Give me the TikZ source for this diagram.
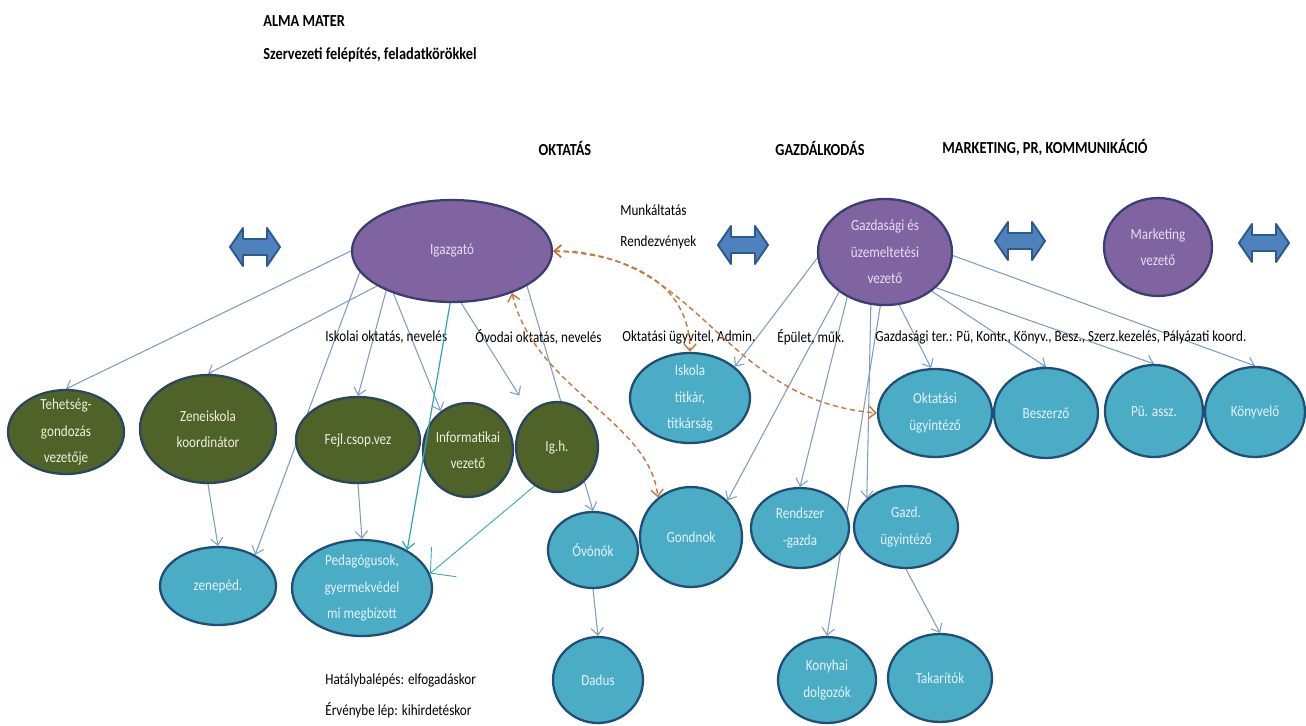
\documentclass[tikz,border=0pt]{standalone}
\usepackage{fontspec}
\setmainfont{Carlito}[FakeStretch=0.85]
\usetikzlibrary{shapes.geometric,arrows.meta,backgrounds}

\definecolor{purplefill}{HTML}{8064A2}
\definecolor{purpleline}{HTML}{3A3F72}
\definecolor{purpletext}{HTML}{E6DDF0}
\definecolor{greenfill}{HTML}{4F6228}
\definecolor{greenline}{HTML}{2A4560}
\definecolor{greentext}{HTML}{EBF1DE}
\definecolor{bluefill}{HTML}{4BACC6}
\definecolor{blueline}{HTML}{1F4E79}
\definecolor{bluetext}{HTML}{E4F3F8}
\definecolor{arrowfill}{HTML}{4F81BD}
\definecolor{arrowline}{HTML}{2C5A8F}
\definecolor{edgecol}{HTML}{7F9CC2}
\definecolor{linkcol}{HTML}{C4783C}
\definecolor{tealcol}{HTML}{2FA8BA}

\newcommand{\txtsize}{\fontsize{8.8}{15}\selectfont}
\newcommand{\headsize}{\fontsize{9.6}{12}\selectfont\bfseries}

\begin{document}
\begin{tikzpicture}[x=0.02cm, y=-0.02cm,
		ell/.style 2 args={minimum width=#1cm, minimum height=#2cm},
		node_text/.style={align=center, font=\txtsize, inner sep=0pt},
		purple_node/.style={ellipse, draw=purpleline, fill=purplefill, line width=1.3pt, inner sep=0pt,
			txt/.style={label={[node_text,text=purpletext]center:{##1}}}},
		green_node/.style={ellipse, draw=greenline, fill=greenfill, line width=1.3pt, inner sep=0pt,
			txt/.style={label={[node_text,text=greentext]center:{##1}}}},
		blue_node/.style={ellipse, draw=blueline, fill=bluefill, line width=1.3pt, inner sep=0pt,
			txt/.style={label={[node_text,text=bluetext]center:{##1}}}},
		dbl_arrow/.pic={\draw[draw=arrowline, fill=arrowfill, line width=1.1pt, line join=round]
			(-25,0) -- (-12,-19) -- (-12,-8) -- (12,-8) -- (12,-19) -- (25,0)
			-- (12,19) -- (12,8) -- (-12,8) -- (-12,19) -- cycle;},
		label_style/.style={font=\txtsize, inner sep=0pt, anchor=west},
		head_style/.style={font=\headsize, inner sep=0pt},
		edge_style/.style={draw=edgecol, line width=0.6pt, -{Straight Barb[length=4pt,width=7pt]}},
		teal_style/.style={draw=tealcol, line width=0.7pt, -{Straight Barb[length=4pt,width=7pt]}},
		link_style/.style={draw=linkcol, line width=0.8pt, densely dashed,
			{Straight Barb[length=4pt,width=7pt]}-{Straight Barb[length=4pt,width=7pt]}}]

		\useasboundingbox (0,0) rectangle (1306,725);

		% titles
		\node[head_style, anchor=west] (title) at (263,21) {ALMA MATER};
		\node[head_style, anchor=west] (subtitle) at (263,55) {Szervezeti felépítés, feladatkörökkel};
		\node[head_style] (h_okt) at (565,148) {OKTATÁS};
		\node[head_style] (h_gaz) at (820,148) {GAZDÁLKODÁS};
		\node[head_style] (h_mkt) at (1045,148) {MARKETING, PR, KOMMUNIKÁCIÓ};

		% leaders
		\node[purple_node, ell={4}{2.04}, txt={Igazgató}] (ig) at (452,251) {};
		\node[purple_node, ell={2.68}{2.12}, txt={Gazdasági és\\üzemeltetési\\vezető}] (gaz) at (885,252) {};
		\node[purple_node, ell={2.16}{1.96}, txt={Marketing\\vezető}] (mkt) at (1158,247) {};

		\pic (da1) at (255,247) {dbl_arrow};
		\pic (da2) at (743,245) {dbl_arrow};
		\pic (da3) at (1020,241) {dbl_arrow};
		\pic (da4) at (1264,243) {dbl_arrow};

		\node[label_style] (munka) at (620,210) {Munkáltatás};
		\node[label_style] (rendez) at (620,242) {Rendezvények};

		% task labels
		\node[label_style] (l_isk) at (325,337) {Iskolai oktatás, nevelés};
		\node[label_style] (l_ovo) at (475,337) {Óvodai oktatás, nevelés};
		\node[label_style] (l_adm) at (622,337) {Oktatási ügyvitel, Admin.};
		\node[label_style] (l_epu) at (777,337) {Épület, műk.};
		\node[label_style] (l_gaz) at (875,337) {Gazdasági ter.: Pü, Kontr., Könyv., Besz., Szerz.kezelés, Pályázati koord.};

		% oktatas
		\node[green_node, ell={2.32}{1.68}, txt={Tehetség-\\gondozás\\vezetője}] (teh) at (66,432) {};
		\node[green_node, ell={2.72}{2.16}, txt={Zeneiskola\\koordinátor}] (zen) at (208,429) {};
		\node[green_node, ell={2.48}{1.72}, txt={Fejl.csop.vez}] (fejl) at (358,440) {};
		\node[green_node, ell={1.8}{1.88}, txt={Informatikai\\vezető}] (inf) at (468,450) {};
		\node[green_node, ell={1.64}{1.8}, txt={Ig.h.}] (igh) at (557,447) {};

		\node[blue_node, ell={2.32}{1.56}, txt={zenepéd.}] (zp) at (218,586) {};
		\node[blue_node, ell={2.8}{1.92}, txt={Pedagógusok,\\gyermekvédel\\mi megbízott}] (ped) at (362,588) {};
		\node[blue_node, ell={1.8}{1.52}, txt={Óvónők}] (ovo) at (593,550) {};
		\node[blue_node, ell={1.8}{1.72}, txt={Dadus}] (dad) at (598,680) {};

		% gazdalkodas
		\node[blue_node, ell={2.4}{1.8}, txt={Iskola\\titkár,\\titkárság}] (isk) at (690,398) {};
		\node[blue_node, ell={2.04}{2.0}, txt={Gondnok}] (gon) at (691,537) {};
		\node[blue_node, ell={1.96}{1.6}, txt={Rendszer\\-gazda}] (rsz) at (800,528) {};
		\node[blue_node, ell={2.08}{1.64}, txt={Gazd.\\ügyintéző}] (gu) at (906,527) {};
		\node[blue_node, ell={1.96}{1.72}, txt={Konyhai\\dolgozók}] (kon) at (827,680) {};
		\node[blue_node, ell={2.08}{1.76}, txt={Takarítók}] (tak) at (940,678) {};
		\node[blue_node, ell={2.28}{1.76}, txt={Oktatási\\ügyintéző}] (okt) at (935,413) {};
		\node[blue_node, ell={2.08}{1.8}, txt={Beszerző}] (bes) at (1046,413) {};
		\node[blue_node, ell={1.96}{1.84}, txt={Pü. assz.}] (pu) at (1154,411) {};
		\node[blue_node, ell={2.0}{1.8}, txt={Könyvelő}] (kvl) at (1255,412) {};

		\node[label_style] (hat1) at (325,680) {Hatálybalépés: elfogadáskor};
		\node[label_style] (hat2) at (325,710) {Érvénybe lép: kihirdetéskor};

		\begin{scope}[on background layer]
			\fill[white] (0,0) rectangle (1306,725);
			\draw[edge_style] (ig.180) -- (teh.north);
			\draw[edge_style] (ig.205) -- (zen.north);
			\draw[edge_style] (ig.193) -- (zp.40);
			\draw[edge_style] (ig.211) -- (fejl.north);
			\draw[edge_style] (ig.216) -- (inf.125);
			\draw[edge_style, shorten >=11pt] (ig.-80) -- (igh.128);
			\draw[edge_style] (ig.-25) -- (ovo.north);
			\draw[edge_style] (zen.south) -- (zp.north);
			\draw[edge_style] (fejl.south) -- (ped.north);
			\draw[edge_style] (ovo.south) -- (dad.north);

			\draw[edge_style] (gaz.185) -- (isk.35);
			\draw[edge_style] (gaz.221) -- (gon.45);
			\draw[edge_style] (gaz.230) -- (rsz.north);
			\draw[edge_style] (gaz.255) -- (gu.144);
			\draw[edge_style] (gaz.265) -- (kon.north);
			\draw[edge_style] (gaz.-75) -- (okt.95);
			\draw[edge_style] (gaz.-40) -- (bes.north);
			\draw[edge_style] (gaz.-35) -- (pu.north);
			\draw[edge_style] (gaz.-3) -- (kvl.north);
			\draw[edge_style] (gu.south) -- (tak.north);
		\end{scope}

		\draw[teal_style] (ig.-92) -- (ped.40);
		\draw[teal_style, line width=0.5pt, -{Straight Barb[length=10pt,width=22pt]}] (igh.240) -- (ped.12);

		\draw[link_style] (ig.east) .. controls (640,255) and (690,290) .. (isk.north);
		\draw[link_style] (ig.east) .. controls (700,250) and (720,400) .. (okt.west);
		\draw[link_style] (ig.-35) .. controls (535,390) and (650,420) .. (gon.130);

\end{tikzpicture}
\end{document}
